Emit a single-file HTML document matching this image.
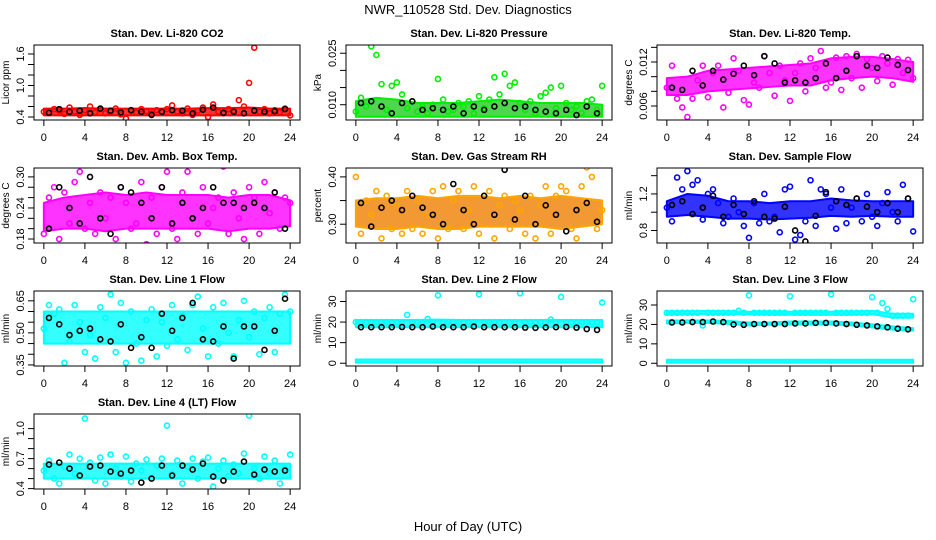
<!DOCTYPE html>
<html><head><meta charset="utf-8"><style>
html,body{margin:0;padding:0;background:#fff}
svg{display:block;font-family:"Liberation Sans",sans-serif}
</style></head><body>
<svg id="chart" width="936" height="540" viewBox="0 0 936 540" xmlns="http://www.w3.org/2000/svg">
<rect width="936" height="540" fill="#fff"/>
<text x="468" y="14" text-anchor="middle" font-size="13">NWR_110528 Std. Dev. Diagnostics</text>
<text x="468" y="531" text-anchor="middle" font-size="13">Hour of Day (UTC)</text>
</svg>
<script>
const xTicks=[0,4,8,12,16,20,24];
// Panel 1 CO2
const p1BandLo=[0.43,0.43,0.43,0.43,0.43,0.43,0.43,0.43,0.43,0.43,0.43,0.43,0.43];
const p1BandHi=[0.56,0.56,0.57,0.56,0.56,0.56,0.56,0.56,0.57,0.57,0.58,0.56,0.56];
const p1Col=[0.5,0.48,0.55,0.52,0.46,0.58,0.5,0.44,0.53,0.6,0.49,0.55,0.47,0.5,0.56,0.45,0.37,0.52,0.48,0.55,0.51,0.46,0.53,0.49,0.55,0.62,0.5,0.47,0.56,0.44,0.52,0.58,0.4,0.64,0.5,0.47,0.55,0.52,0.72,0.6,1.05,1.72,0.5,0.55,0.47,0.53,0.49,0.56,0.43];
const p1Blk=[0.48,0.55,0.5,0.52,0.47,0.56,0.52,0.49,0.53,0.5,0.44,0.5,0.53,0.52,0.47,0.54,0.58,0.48,0.5,0.47,0.52,0.5,0.51,0.55];
// Panel 2 Pressure
const p2BandLo=[0.0065,0.0065,0.0065,0.0065,0.0065,0.0065,0.0065,0.0065,0.0065,0.0065,0.0065,0.0065,0.0065];
const p2BandHi=[0.011,0.012,0.0115,0.0105,0.0105,0.0105,0.011,0.0115,0.011,0.0105,0.0105,0.0105,0.01];
const p2Col=[0.008,0.012,0.0095,0.027,0.0245,0.016,0.0085,0.0155,0.0165,0.013,0.009,0.011,0.008,0.0095,0.0075,0.01,0.0175,0.0115,0.008,0.0085,0.0105,0.0095,0.011,0.0075,0.0125,0.009,0.0115,0.018,0.013,0.019,0.0155,0.0165,0.0105,0.0085,0.011,0.0075,0.0125,0.0135,0.015,0.009,0.0155,0.0105,0.0085,0.0095,0.0075,0.011,0.0115,0.0085,0.0155];
const p2Blk=[0.0105,0.011,0.0095,0.0075,0.0105,0.011,0.0085,0.009,0.0085,0.0095,0.0075,0.0095,0.0085,0.0095,0.0105,0.009,0.0095,0.0085,0.008,0.0075,0.0085,0.007,0.0095,0.0075];
// Panel 3 Li-820 Temp
const p3BandLo=[0.0075,0.0075,0.008,0.0082,0.0084,0.0086,0.0088,0.0088,0.0095,0.0098,0.01,0.0098,0.0093];
const p3BandHi=[0.0098,0.01,0.0108,0.011,0.0112,0.0114,0.0116,0.0118,0.0125,0.0127,0.0127,0.0124,0.012];
const p3Col=[0.0085,0.0115,0.007,0.0058,0.0045,0.007,0.0095,0.0115,0.0072,0.0105,0.0115,0.0058,0.0078,0.0125,0.0108,0.0068,0.0062,0.0092,0.0085,0.0128,0.0105,0.0074,0.0115,0.0095,0.0067,0.0105,0.0118,0.008,0.0125,0.0112,0.0135,0.0085,0.0092,0.0126,0.0082,0.0128,0.0098,0.0131,0.0085,0.0124,0.0112,0.0094,0.0128,0.0118,0.0089,0.0124,0.0105,0.0123,0.0098];
const p3Blk=[0.0085,0.0082,0.0108,0.0088,0.0108,0.0096,0.0104,0.0115,0.0102,0.0128,0.0118,0.0092,0.0095,0.0092,0.0098,0.0118,0.0098,0.0108,0.0128,0.0115,0.0112,0.0126,0.0116,0.0109];
// Panel 4 Amb Box Temp
const p4BandLo=[0.195,0.2,0.2,0.195,0.2,0.2,0.2,0.2,0.2,0.195,0.2,0.2,0.205];
const p4BandHi=[0.25,0.26,0.265,0.27,0.265,0.27,0.265,0.265,0.265,0.26,0.265,0.265,0.255];
const p4Col=[0.19,0.26,0.28,0.18,0.27,0.21,0.29,0.31,0.2,0.25,0.19,0.27,0.22,0.26,0.18,0.28,0.25,0.2,0.21,0.29,0.17,0.26,0.19,0.28,0.31,0.2,0.18,0.27,0.31,0.22,0.19,0.28,0.21,0.24,0.26,0.32,0.19,0.27,0.22,0.18,0.28,0.26,0.19,0.29,0.23,0.27,0.2,0.26,0.25];
const p4Blk=[0.2,0.28,0.24,0.21,0.3,0.22,0.19,0.28,0.27,0.25,0.22,0.28,0.21,0.25,0.22,0.24,0.28,0.25,0.25,0.24,0.25,0.24,0.27,0.2];
// Panel 5 Gas Stream RH
const p5BandLo=[0.295,0.29,0.29,0.295,0.29,0.29,0.295,0.295,0.295,0.295,0.29,0.295,0.3];
const p5BandHi=[0.35,0.355,0.355,0.36,0.355,0.36,0.36,0.355,0.36,0.355,0.36,0.355,0.35];
const p5Col=[0.4,0.28,0.35,0.32,0.37,0.27,0.36,0.29,0.34,0.28,0.37,0.29,0.35,0.28,0.32,0.37,0.27,0.38,0.29,0.35,0.37,0.29,0.33,0.38,0.28,0.36,0.37,0.27,0.34,0.36,0.29,0.35,0.33,0.28,0.36,0.27,0.34,0.38,0.28,0.36,0.38,0.37,0.29,0.27,0.38,0.42,0.4,0.29,0.33];
const p5Blk=[0.345,0.295,0.335,0.35,0.33,0.36,0.335,0.32,0.3,0.385,0.33,0.3,0.36,0.32,0.415,0.31,0.36,0.3,0.34,0.32,0.285,0.33,0.345,0.305];
// Panel 6 Sample Flow
const p6BandLo=[0.95,0.97,0.95,0.93,0.93,0.92,0.93,0.94,0.96,0.95,0.96,0.95,0.95];
const p6BandHi=[1.12,1.2,1.18,1.12,1.12,1.1,1.12,1.12,1.15,1.13,1.12,1.12,1.12];
const p6Col=[1.05,0.9,1.38,1.25,1.45,1.3,1.35,0.92,1.2,1.25,1.1,0.88,0.95,1.15,1.0,0.85,0.72,1.1,0.88,1.2,0.9,0.95,0.78,1.25,1.28,0.7,0.75,0.9,1.35,0.85,1.25,1.2,1.05,0.82,1.25,0.88,1.05,1.15,0.9,1.2,0.95,0.85,1.1,1.22,1.0,0.9,1.3,1.15,0.79];
const p6Blk=[1.08,1.12,0.98,1.05,1.18,0.95,1.08,0.98,1.12,0.95,0.93,1.06,0.8,0.68,0.96,1.22,1.12,1.08,1.15,1.06,1.0,1.1,1.0,1.15];
// Panel 7 Line 1 Flow
const p7BandLo=[0.45,0.45,0.45,0.45,0.45,0.45,0.45,0.45,0.45,0.45,0.45,0.45,0.45];
const p7BandHi=[0.6,0.6,0.6,0.6,0.6,0.6,0.6,0.6,0.6,0.6,0.6,0.6,0.6];
const p7Col=[0.52,0.63,0.59,0.61,0.36,0.46,0.63,0.55,0.41,0.49,0.38,0.62,0.57,0.68,0.41,0.64,0.36,0.6,0.45,0.37,0.56,0.61,0.39,0.55,0.44,0.63,0.47,0.58,0.42,0.63,0.67,0.52,0.39,0.62,0.45,0.64,0.5,0.39,0.56,0.65,0.48,0.6,0.4,0.57,0.62,0.41,0.59,0.68,0.6];
const p7Blk=[0.57,0.54,0.49,0.51,0.52,0.47,0.46,0.54,0.43,0.48,0.43,0.59,0.51,0.57,0.64,0.47,0.46,0.53,0.38,0.53,0.53,0.42,0.51,0.66];
// Panel 8 Line 2 Flow
const p8BandLo=[17.5,17.5,17.5,17.5,17.5,17.5,17.5,17.5,17.5,17.5,17.5,17.5,17.5];
const p8BandHi=[21,21,21,21,21.2,21,21,21,21,21,21,21,21];
const p8Band2Lo=[0.3,0.3,0.3,0.3,0.3,0.3,0.3,0.3,0.3,0.3,0.3,0.3,0.3];
const p8Band2Hi=[1.8,1.8,1.8,1.8,1.8,1.8,1.8,1.8,1.8,1.8,1.8,1.8,1.8];
const p8Col=[20,20,20,20,20,20,20,20,20,20,23.5,20,20,20,21.5,20,33,20,20,20,20,20,20,20,33.5,20,20,20,20,20,20,20,34,20,20,20,20,20,21.2,20,32.2,20,20,20,20,20,20,20,29.5];
const p8Blk=[17.5,17.5,17.5,17.5,17.6,17.5,17.5,17.8,17.5,17.5,17.5,17.8,17.5,17.5,17.5,17.5,17.3,17.2,17.4,17.5,17.6,17.3,16.6,16.2];
// Panel 9 Line 3 Flow
const p9BandLo=[20.5,20.8,20.8,20.3,19.5,19.8,20,20,20,19.5,18.5,17.3,16.8];
const p9BandHi=[22,22,22,21.8,21,21,21.5,21.5,21.5,21,20,19,18];
const p9Band2Lo=[25,25.3,25.5,25.3,25.2,25,25,25,25,25,25.3,23.5,23.5];
const p9Band2Hi=[26.5,26.8,27,26.8,26.5,26.5,26.5,26.5,26.5,26.5,27,25.5,25.5];
const p9Band3Lo=[0.3,0.3,0.3,0.3,0.3,0.3,0.3,0.3,0.3,0.3,0.3,0.3,0.3];
const p9Band3Hi=[1.8,1.8,1.8,1.8,1.8,1.8,1.8,1.8,1.8,1.8,1.8,1.8,1.8];
const p9Col=[26,26,26,26,26,26,26,19.5,26,26,26,26,26,26,27,26,35,26,26,26,26,26,26,26,34.5,26,26,26,26,26,26,26,35.5,26,26,26,26,26,26,26,34,26,31,28,24.5,24.5,24.5,24.5,33];
const p9Blk=[21,21,21.2,21.2,21.5,21.2,20,19.8,20.2,20.2,20.2,20.2,20.5,20.5,20.8,20.8,20.5,20.2,19.8,19.5,19,18.5,17.8,17.5];
// Panel 10 Line 4 (LT) Flow
const p10BandLo=[0.5,0.5,0.5,0.5,0.5,0.5,0.5,0.5,0.5,0.5,0.5,0.5,0.5];
const p10BandHi=[0.65,0.65,0.65,0.65,0.65,0.65,0.65,0.65,0.65,0.65,0.65,0.65,0.65];
const p10Col=[0.58,0.68,0.5,0.45,0.62,0.74,0.55,0.7,1.1,0.66,0.48,0.71,0.45,0.74,0.6,0.52,0.72,0.47,0.65,0.58,0.69,0.5,0.63,0.7,1.03,0.55,0.68,0.45,0.62,0.7,0.5,0.67,0.71,0.42,0.6,0.68,0.52,0.64,0.55,0.75,1.13,0.6,0.5,0.72,0.55,0.68,0.45,0.6,0.74];
const p10Blk=[0.64,0.66,0.6,0.53,0.62,0.63,0.57,0.55,0.58,0.46,0.5,0.63,0.53,0.63,0.59,0.65,0.52,0.48,0.57,0.67,0.54,0.59,0.57,0.58];

const NS='http://www.w3.org/2000/svg';
const svg=document.getElementById('chart');
function mk(tag,attrs,parent){const e=document.createElementNS(NS,tag);for(const k in attrs)e.setAttribute(k,attrs[k]);(parent||svg).appendChild(e);return e;}

function panel(cfg){
  const L=cfg.left,T=cfg.top,W=266,H=75;
  const g=mk('g',{});
  
  
  const xs=h=>L+(h+0.96)/25.92*W;
  const ys=v=>T+H-(v-cfg.ymin)/(cfg.ymax-cfg.ymin)*H;
  const clip='clip-'+cfg.name;
  const cp=mk('clipPath',{id:clip},g);mk('rect',{x:L,y:T,width:W,height:H},cp);
  const pg=mk('g',{'clip-path':'url(#'+clip+')'},g);
  cfg.bands.forEach(b=>{
    let pts=[];
    b[0].forEach((v,i)=>pts.push(xs(i*2)+','+ys(v)));
    for(let i=b[1].length-1;i>=0;i--)pts.push(xs(i*2)+','+ys(b[1][i]));
    const p=mk('polygon',{points:pts.join(' '),fill:cfg.fill,'fill-opacity':'0.8',stroke:cfg.color,'stroke-width':'2','stroke-linejoin':'round'},pg);
    
    
  });
  cfg.col.forEach((v,i)=>{
    const c=mk('circle',{cx:xs(i*0.5),cy:ys(v),r:2.5,fill:'none',stroke:cfg.color,'stroke-width':1.6},pg);
    
    
  });
  cfg.blk.forEach((v,i)=>{
    const c=mk('circle',{cx:xs(i+0.5),cy:ys(v),r:2.5,fill:'none',stroke:'#000','stroke-width':1.6},pg);
    
    
  });
  const box=mk('rect',{x:L,y:T,width:W,height:H,fill:'none',stroke:'#000','stroke-width':1},g);
  
  
  xTicks.forEach(h=>{
    mk('line',{x1:xs(h),x2:xs(h),y1:T+H,y2:T+H+6,stroke:'#000'},g);
    const t=mk('text',{x:xs(h),y:T+H+21,'text-anchor':'middle','font-size':11},g);
    t.textContent=h;
    
    
  });
  cfg.yt.forEach(v=>{mk('line',{x1:L-6,x2:L,y1:ys(v),y2:ys(v),stroke:'#000'},g);});
  cfg.yl.forEach((lab,i)=>{
    const y=ys(cfg.ylv[i]);
    const t=mk('text',{x:L-10,y:y,'text-anchor':'middle','font-size':11,transform:'rotate(-90 '+(L-10)+' '+y+')'},g);
    t.textContent=lab;
    
    
  });
  const yt=mk('text',{x:L-25,y:T+H/2,'text-anchor':'middle','font-size':10,transform:'rotate(-90 '+(L-25)+' '+(T+H/2)+')'},g);
  yt.textContent=cfg.ylab;
  
  
  const tt=mk('text',{x:L+W/2,y:T-8,'text-anchor':'middle','font-size':11,'font-weight':'bold'},g);
  tt.textContent=cfg.title;
  
  
}
const C=[34,346,657],R=[45,168,291,414];
function seq(a,b,s){const r=[];for(let v=a;v<=b+1e-9;v+=s)r.push(+v.toFixed(6));return r;}
panel({name:'panel-co2',left:C[0],top:R[0],ymin:0.343,ymax:1.771,color:'#ff0000',fill:'#ff0000',bands:[[p1BandLo,p1BandHi]],col:p1Col,blk:p1Blk,yt:seq(0.4,1.6,0.2),yl:['0.4','1.0','1.6'],ylv:[0.4,1.0,1.6],ylab:'Licor ppm',title:'Stan. Dev. Li-820 CO2'});
panel({name:'panel-pressure',left:C[1],top:R[0],ymin:0.00555,ymax:0.0274,color:'#00ee00',fill:'#22cc22',bands:[[p2BandLo,p2BandHi]],col:p2Col,blk:p2Blk,yt:seq(0.01,0.025,0.005),yl:['0.010','0.025'],ylv:[0.01,0.025],ylab:'kPa',title:'Stan. Dev. Li-820 Pressure'});
panel({name:'panel-li820-temp',left:C[2],top:R[0],ymin:0.00409,ymax:0.01432,color:'#ff00ff',fill:'#ff00ff',bands:[[p3BandLo,p3BandHi]],col:p3Col,blk:p3Blk,yt:seq(0.006,0.014,0.002),yl:['0.006','0.012'],ylv:[0.006,0.012],ylab:'degrees C',title:'Stan. Dev. Li-820 Temp.'});
panel({name:'panel-amb-box-temp',left:C[0],top:R[1],ymin:0.1723,ymax:0.3172,color:'#ff00ff',fill:'#ff00ff',bands:[[p4BandLo,p4BandHi]],col:p4Col,blk:p4Blk,yt:seq(0.18,0.3,0.02),yl:['0.18','0.24','0.30'],ylv:[0.18,0.24,0.3],ylab:'degrees C',title:'Stan. Dev. Amb. Box Temp.'});
panel({name:'panel-gas-stream-rh',left:C[1],top:R[1],ymin:0.2603,ymax:0.4188,color:'#ffa500',fill:'#f08000',bands:[[p5BandLo,p5BandHi]],col:p5Col,blk:p5Blk,yt:[0.3,0.35,0.4],yl:['0.30','0.40'],ylv:[0.3,0.4],ylab:'percent',title:'Stan. Dev. Gas Stream RH'});
panel({name:'panel-sample-flow',left:C[2],top:R[1],ymin:0.663,ymax:1.484,color:'#0000ff',fill:'#0000ff',bands:[[p6BandLo,p6BandHi]],col:p6Col,blk:p6Blk,yt:[0.8,1.0,1.2,1.4],yl:['0.8','1.2'],ylv:[0.8,1.2],ylab:'ml/min',title:'Stan. Dev. Sample Flow'});
panel({name:'panel-line1-flow',left:C[0],top:R[2],ymin:0.345,ymax:0.696,color:'#00ffff',fill:'#00ffff',bands:[[p7BandLo,p7BandHi]],col:p7Col,blk:p7Blk,yt:seq(0.35,0.65,0.05),yl:['0.35','0.50','0.65'],ylv:[0.35,0.5,0.65],ylab:'ml/min',title:'Stan. Dev. Line 1 Flow'});
panel({name:'panel-line2-flow',left:C[1],top:R[2],ymin:-1.35,ymax:35.1,color:'#00ffff',fill:'#00ffff',bands:[[p8BandLo,p8BandHi],[p8Band2Lo,p8Band2Hi]],col:p8Col,blk:p8Blk,yt:[0,10,20,30],yl:['0','10','20','30'],ylv:[0,10,20,30],ylab:'ml/min',title:'Stan. Dev. Line 2 Flow'});
panel({name:'panel-line3-flow',left:C[2],top:R[2],ymin:-1.4,ymax:37.2,color:'#00ffff',fill:'#00ffff',bands:[[p9BandLo,p9BandHi],[p9Band2Lo,p9Band2Hi],[p9Band3Lo,p9Band3Hi]],col:p9Col,blk:p9Blk,yt:[0,10,20,30],yl:['0','10','20','30'],ylv:[0,10,20,30],ylab:'ml/min',title:'Stan. Dev. Line 3 Flow'});
panel({name:'panel-line4-flow',left:C[0],top:R[3],ymin:0.396,ymax:1.146,color:'#00ffff',fill:'#00ffff',bands:[[p10BandLo,p10BandHi]],col:p10Col,blk:p10Blk,yt:seq(0.4,1.0,0.1),yl:['0.4','0.7','1.0'],ylv:[0.4,0.7,1.0],ylab:'ml/min',title:'Stan. Dev. Line 4 (LT) Flow'});
</script>
</body></html>
